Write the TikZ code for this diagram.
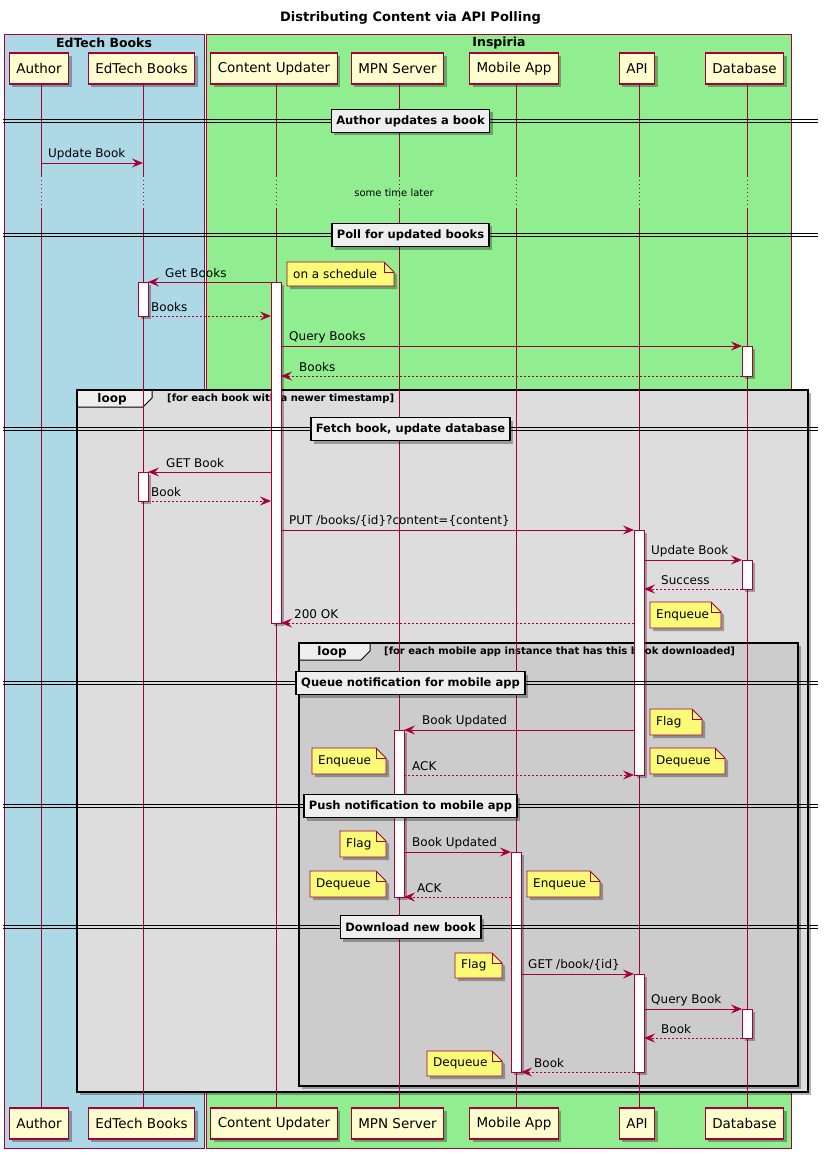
\documentclass[tikz,border=0pt]{standalone}
\usepackage{fontspec}
\setmainfont{DejaVu Sans}
\usetikzlibrary{arrows.meta,shadows,calc}
\definecolor{pcol}{HTML}{A80036}
\definecolor{pfill}{HTML}{FEFECE}
\definecolor{nfill}{HTML}{FBFB77}
\definecolor{boxblue}{HTML}{ADD8E6}
\definecolor{boxgreen}{HTML}{90EE90}
\definecolor{loopA}{HTML}{DDDDDD}
\definecolor{loopB}{HTML}{CCCCCC}
\definecolor{divfill}{HTML}{EEEEEE}
\tikzset{
 shad/.style={drop shadow={shadow xshift=3pt,shadow yshift=-3pt,opacity=0.3,fill=black}},
 part/.style={draw=pcol,fill=pfill,line width=1.1pt,minimum height=31pt,inner xsep=7pt,inner ysep=0pt,font=\fontsize{13.5}{15}\selectfont,shad},
 life/.style={draw=pcol,line width=0.9pt},
 lifedot/.style={draw=pcol,line width=0.9pt,dash pattern=on 1pt off 3pt},
 msg/.style={draw=pcol,line width=0.9pt,-{Stealth[length=11pt,width=9pt,inset=4pt]}},
 ret/.style={msg,dash pattern=on 2pt off 2pt},
 mlabel/.style={font=\fontsize{12}{14}\selectfont,anchor=west,inner sep=0pt},
 actbar/.style={draw=pcol,fill=white,line width=0.9pt,minimum width=10pt,inner sep=0pt,anchor=north,shad},
 notebox/.style={draw=pcol,fill=nfill,line width=0.9pt,shad},
 notetext/.style={font=\fontsize{12}{14}\selectfont,anchor=west,inner sep=0pt},
 divlabel/.style={draw=black,fill=divfill,line width=1.6pt,font=\bfseries\fontsize{11.5}{13}\selectfont,inner xsep=5pt,minimum height=23pt,inner ysep=0pt,shad},
 divline/.style={draw=black,line width=0.9pt},
 frame/.style={draw=black,line width=2pt,shad},
 frameborder/.style={draw=black,line width=2pt},
 tab/.style={draw=black,fill=divfill,line width=1pt},
 tablabel/.style={font=\bfseries\fontsize{12}{14}\selectfont,inner sep=0pt},
 condlabel/.style={font=\bfseries\fontsize{10}{12}\selectfont,inner sep=0pt,anchor=west},
 boxtitle/.style={font=\bfseries\fontsize{12.5}{14}\selectfont,inner sep=0pt},
}
\newcommand\msgarrow[7]{%
 \coordinate (#1s) at (#2,#4);
 \coordinate (#1e) at (#3,#4);
 \draw[#7] (#1s) -- (#1e);
 \node[mlabel] (#1l) at (#5,#4-9) {#6};
}
\newcommand\notebx[6]{%
 \path[notebox] (#2,#3) -- (#4-10,#3) -- (#4,#3+10) -- (#4,#5) -- (#2,#5) -- cycle;
 \draw[pcol,line width=0.9pt] (#4-10,#3) -- (#4-10,#3+10) -- (#4,#3+10);
 \node[notetext] (#1) at (#2+6,{(#3+#5)/2}) {#6};
}
\newcommand\divider[3]{%
 \draw[divline] (3,#2-1.5) -- (818,#2-1.5);
 \draw[divline] (3,#2+1.5) -- (818,#2+1.5);
 \node[divlabel] (#1) at (410.5,#2) {#3};
}
\newcommand\actbx[4]{%
 \node[actbar,minimum height={(#4-#3)*1pt}] (#1) at (#2,#3) {};
}
\newcommand\loopframe[9]{%
 \path[frame,fill=#6] (#2,#3) rectangle (#4,#5);
 \draw[tab] (#2,#3) -- (#7,#3) -- (#7,#3+8) -- (#7-9,#3+17) -- (#2,#3+17) -- cycle;
 \draw[frameborder] (#2,#3) rectangle (#4,#5);
 \node[tablabel] (#1t) at ({(#2+#7-5)/2},#3+9) {loop};
 \node[condlabel] (#1c) at (#9,#3+9) {#8};
}
\begin{document}
\begin{tikzpicture}[x=1pt,y=-1pt]
\useasboundingbox (0,0) rectangle (828,1158);
\fill[white] (0,0) rectangle (828,1158);
% title
\node[font=\bfseries\fontsize{13}{15}\selectfont,inner sep=0pt] (title) at (410.5,18) {Distributing Content via API Polling};
% boxes
\draw[pcol,fill=boxblue,line width=0.9pt] (4,34) rectangle (204,1148);
\draw[pcol,fill=boxgreen,line width=0.9pt] (206,34) rectangle (791,1148);
\node[boxtitle] (bt1) at (104,43) {EdTech Books};
\node[boxtitle] (bt2) at (499,43) {Inspiria};
% loops
\loopframe{L1}{77}{390}{808}{1092}{loopA}{152}{[for each book with a newer timestamp]}{167}
\loopframe{L2}{299}{643}{798}{1086}{loopB}{370}{[for each mobile app instance that has this book downloaded]}{384}
% participants
\node[part] (A) at (39,68.5) {Author};
\node[part] (E) at (141.5,68.5) {EdTech Books};
\node[part] (C) at (274,68.5) {Content Updater};
\node[part] (M) at (397.5,68.5) {MPN Server};
\node[part] (P) at (514,68.5) {Mobile App};
\node[part] (I) at (637,68.5) {API};
\node[part] (D) at (744.5,68.5) {Database};
\node[part] (Ab) at (39,1123.5) {Author};
\node[part] (Eb) at (141.5,1123.5) {EdTech Books};
\node[part] (Cb) at (274,1123.5) {Content Updater};
\node[part] (Mb) at (397.5,1123.5) {MPN Server};
\node[part] (Pb) at (514,1123.5) {Mobile App};
\node[part] (Ib) at (637,1123.5) {API};
\node[part] (Db) at (744.5,1123.5) {Database};
% lifelines
\coordinate (d1) at (0,176);
\coordinate (d2) at (0,208);
\foreach \p/\x in {A/41,E/143,C/276,M/399,P/516,I/639,D/747}{
  \coordinate (l\p t) at (\x,84);
  \coordinate (l\p b) at (\x,1108);
  \draw[life] (l\p t) -- (l\p t |- d1);
  \draw[lifedot] (l\p t |- d1) -- (l\p t |- d2);
  \draw[life] (l\p t |- d2) -- (l\p b);
}
\node[font=\fontsize{10}{12}\selectfont,inner sep=0pt] (delay) at (394,193) {some time later};
% activations
\actbx{aE1}{143}{282}{316}
\actbx{aE2}{143}{472}{501}
\actbx{aC}{276}{282}{623}
\actbx{aD1}{747}{346}{376}
\actbx{aD2}{747}{560}{589}
\actbx{aD3}{747}{1009}{1038}
\actbx{aI1}{639}{530}{775}
\actbx{aI2}{639}{974}{1072}
\actbx{aM}{399}{730}{897}
\actbx{aP}{516}{852}{1072}
% messages
\msgarrow{m1}{41}{143}{163}{48}{Update Book}{msg}
\msgarrow{m2}{271}{148}{282}{165}{Get Books}{msg}
\msgarrow{m3}{148}{271}{316}{151}{Books}{ret}
\msgarrow{m4}{281}{742}{346}{289}{Query Books}{msg}
\msgarrow{m5}{742}{281}{376}{299}{Books}{ret}
\msgarrow{m6}{271}{148}{472}{166}{GET Book}{msg}
\msgarrow{m7}{148}{271}{501}{151}{Book}{ret}
\msgarrow{m8}{281}{634}{530}{289}{PUT /books/\{id\}?content=\{content\}}{msg}
\msgarrow{m9}{644}{742}{560}{651}{Update Book}{msg}
\msgarrow{m10}{742}{644}{589}{661}{Success}{ret}
\msgarrow{m11}{634}{281}{623}{294}{200 OK}{ret}
\msgarrow{m12}{634}{404}{730}{422}{Book Updated}{msg}
\msgarrow{m13}{404}{634}{775}{412}{ACK}{ret}
\msgarrow{m14}{404}{511}{852}{412}{Book Updated}{msg}
\msgarrow{m15}{511}{404}{897}{417}{ACK}{ret}
\msgarrow{m16}{521}{634}{974}{528}{GET /book/\{id\}}{msg}
\msgarrow{m17}{644}{742}{1009}{651}{Query Book}{msg}
\msgarrow{m18}{742}{644}{1038}{661}{Book}{ret}
\msgarrow{m19}{634}{521}{1072}{534}{Book}{ret}
% notes
\notebx{n1}{287}{262}{394}{286}{on a schedule}
\notebx{n2}{650}{602}{721}{628}{Enqueue}
\notebx{n3}{650}{709}{702}{735}{Flag}
\notebx{n4}{312}{748}{386}{774}{Enqueue}
\notebx{n5}{650}{748}{725}{774}{Dequeue}
\notebx{n6}{340}{831}{386}{857}{Flag}
\notebx{n7}{310}{871}{386}{897}{Dequeue}
\notebx{n8}{527}{871}{600}{897}{Enqueue}
\notebx{n9}{455}{953}{502}{978}{Flag}
\notebx{n10}{427}{1051}{502}{1076}{Dequeue}
% dividers
\divider{s1}{121}{Author updates a book}
\divider{s2}{235}{Poll for updated books}
\divider{s3}{429}{Fetch book, update database}
\divider{s4}{683}{Queue notification for mobile app}
\divider{s5}{806}{Push notification to mobile app}
\divider{s6}{927}{Download new book}
\end{tikzpicture}
\end{document}
